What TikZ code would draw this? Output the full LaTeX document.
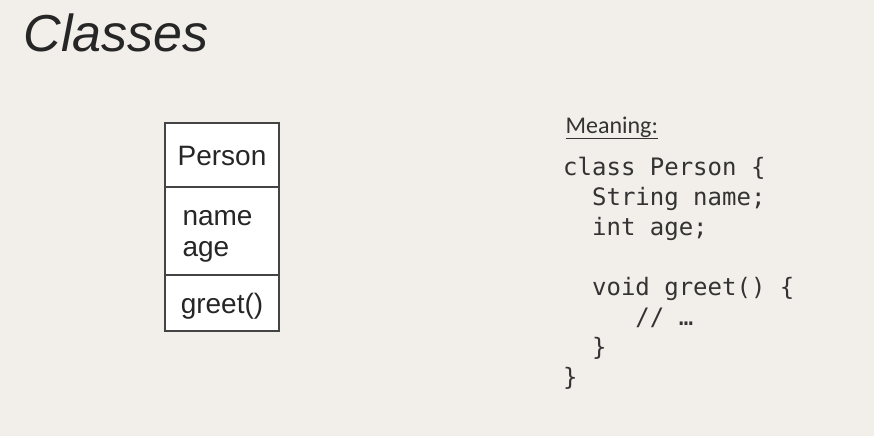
\documentclass[tikz,border=0pt]{standalone}
\usepackage{fontspec}
\setmainfont{Liberation Sans}
\newfontfamily\codefont{DejaVu Sans Mono}
\newfontfamily\notefont{Carlito}
\usetikzlibrary{positioning}
\definecolor{slidebg}{HTML}{F2EEE9}
\definecolor{inkgray}{HTML}{444444}
\begin{document}
\begin{tikzpicture}[x=1pt, y=-1pt,
  part/.style={draw=inkgray, line width=2pt, fill=white, minimum width=114pt, inner sep=0pt, outer sep=0pt},
  member/.style={font=\fontsize{28}{31}\selectfont, text=black!85}]
\fill[slidebg] (0,0) rectangle (874,436);
\useasboundingbox (0,0) rectangle (874,436);
\node [anchor=base west, font=\itshape\fontsize{52}{60}\selectfont, text=black!85] (title) at (20,52) {Classes};
% the class box
\node [part, minimum height=64pt, anchor=north west] (head) at (165,123) {};
\node [part, minimum height=88pt, below=0pt of head] (fields) {};
\node [part, minimum height=56pt, below=0pt of fields] (methods) {};
\node [member, anchor=center] (name) at ([yshift=-1pt]head.center) {Person};
\node [member, anchor=west, align=left] (attrs) at ([xshift=14pt, yshift=-5pt]fields.west) {name\\age};
\node [member, anchor=center] (ops) at ([yshift=-3pt]methods.center) {greet()};
% the meaning
\node [anchor=base west, font=\notefont\fontsize{24}{28}\selectfont, text=black!80] (meaning) at (562,133) {\underline{Meaning:}};
\node [anchor=north west, align=left, inner sep=0pt, text=black!80,
  font=\codefont\fontsize{24}{30}\selectfont] (code) at (563,157) {%
class Person \{\\
\ \ String name;\\
\ \ int age;\\
\strut\\
\ \ void greet() \{\\
\ \ \ \ \ // …\\
\ \ \}\\
\}};
\end{tikzpicture}
\end{document}
